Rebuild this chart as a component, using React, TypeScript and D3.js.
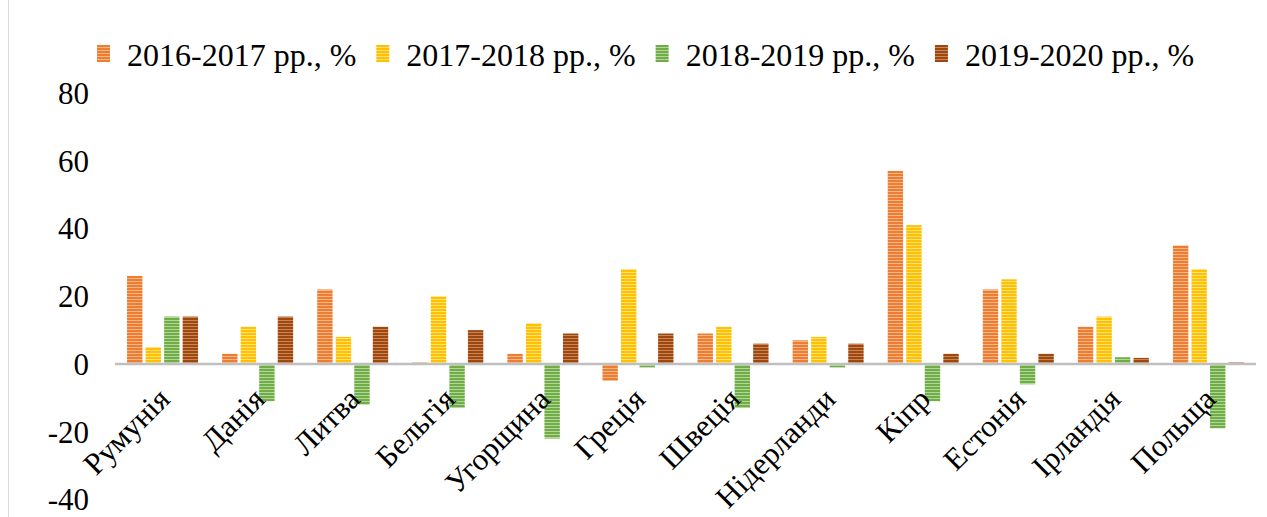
import React, { useEffect, useRef } from 'react';
import * as d3 from 'd3';

// Country categories (x axis)
const categories = [
  'Румунія', 'Данія', 'Литва', 'Бельгія', 'Угорщина', 'Греція',
  'Швеція', 'Нідерланди', 'Кіпр', 'Естонія', 'Ірландія', 'Польща',
];

const seriesNames = [
  '2016-2017 рр., %',
  '2017-2018 рр., %',
  '2018-2019 рр., %',
  '2019-2020 рр., %',
];

const s2016 = [26, 3, 22, 0.5, 3, -5, 9, 7, 57, 22, 11, 35];
const s2017 = [5, 11, 8, 20, 12, 28, 11, 8, 41, 25, 14, 28];
const s2018 = [14, -11, -12, -13, -22, -1, -13, -1, -11, -6, 2, -19];
const s2019 = [14, 14, 11, 10, 9, 9, 6, 6, 3, 3, 1.8, 0.5];

const yTicks = [-40, -20, 0, 20, 40, 60, 80];

const colors = ['#ED7D31', '#FFC000', '#70AD47', '#9E480E'];
const stripeColors = ['#F6B68A', '#FFE07A', '#B3D79B', '#C8865A'];

const W = 1267;
const H = 517;

export default function App() {
  const svgRef = useRef<SVGSVGElement | null>(null);

  useEffect(() => {
    if (!svgRef.current) return;
    const svg = d3.select(svgRef.current);
    svg.selectAll('*').remove();

    const values = [s2016, s2017, s2018, s2019];
    const font = '"Liberation Serif", "Times New Roman", serif';
    const fontSize = 31;

    // stripe patterns
    const defs = svg.append('defs');
    colors.forEach((c, i) => {
      const p = defs.append('pattern')
        .attr('id', `stripe${i}`)
        .attr('patternUnits', 'userSpaceOnUse')
        .attr('width', 6)
        .attr('height', 3);
      p.append('rect').attr('width', 6).attr('height', 3).attr('fill', c);
      p.append('rect').attr('y', 2).attr('width', 6).attr('height', 1).attr('fill', stripeColors[i]);
    });

    svg.append('rect').attr('width', W).attr('height', H).attr('fill', '#fff');

    // left border of the chart area
    svg.append('line')
      .attr('x1', 8.5).attr('x2', 8.5)
      .attr('y1', 0).attr('y2', H)
      .attr('stroke', '#D9D9D9')
      .attr('stroke-width', 1);

    const x = d3.scaleBand<string>()
      .domain(categories)
      .range([115, 1256])
      .paddingInner(0)
      .paddingOuter(0);

    const xs = d3.scaleBand<number>()
      .domain([0, 1, 2, 3])
      .range([-35.5, 35.5])
      .paddingInner(0.17);

    const y = d3.scaleLinear().domain([-40, 80]).range([499.5, 93]);

    // y tick labels
    svg.append('g')
      .selectAll('text')
      .data(yTicks)
      .enter()
      .append('text')
      .attr('x', 89)
      .attr('y', d => y(d))
      .attr('dy', '0.35em')
      .attr('text-anchor', 'end')
      .attr('font-family', font)
      .attr('font-size', fontSize)
      .attr('fill', '#000')
      .text(d => String(d));

    // bars
    values.forEach((vals, si) => {
      svg.append('g')
        .selectAll('rect')
        .data(vals)
        .enter()
        .append('rect')
        .attr('x', (d, i) => (x(categories[i]) as number) + x.bandwidth() / 2 + (xs(si) as number))
        .attr('width', xs.bandwidth())
        .attr('y', d => y(Math.max(0, d)))
        .attr('height', d => Math.abs(y(d) - y(0)))
        .attr('fill', `url(#stripe${si})`);
    });

    // zero axis line
    svg.append('line')
      .attr('x1', 115).attr('x2', 1256)
      .attr('y1', y(0)).attr('y2', y(0))
      .attr('stroke', '#BFBFBF')
      .attr('stroke-width', 2.5);

    // category labels
    svg.append('g')
      .selectAll('text')
      .data(categories)
      .enter()
      .append('text')
      .attr('transform', d => `translate(${(x(d) as number) + x.bandwidth() / 2 + 9}, ${y(0) + 37}) rotate(-45)`)
      .attr('text-anchor', 'end')
      .attr('font-family', font)
      .attr('font-size', fontSize)
      .attr('fill', '#000')
      .text(d => d);

    // legend
    const legend = svg.append('g').attr('transform', 'translate(97, 0)');
    let lx = 0;
    seriesNames.forEach((name, i) => {
      const g = legend.append('g').attr('transform', `translate(${lx}, 0)`);
      g.append('rect')
        .attr('x', 0).attr('y', 45)
        .attr('width', 13).attr('height', 17)
        .attr('fill', `url(#stripe${i})`);
      const t = g.append('text')
        .attr('x', 30)
        .attr('y', 66)
        .attr('font-family', font)
        .attr('font-size', 32)
        .attr('fill', '#000')
        .text(name);
      const len = (t.node() as SVGTextElement).getComputedTextLength();
      lx += 30 + len + 20;
    });
  }, []);

  return (
    <svg
      ref={svgRef}
      width={W}
      height={H}
      style={{ position: 'absolute', left: 0, top: 0, display: 'block' }}
    />
  );
}
